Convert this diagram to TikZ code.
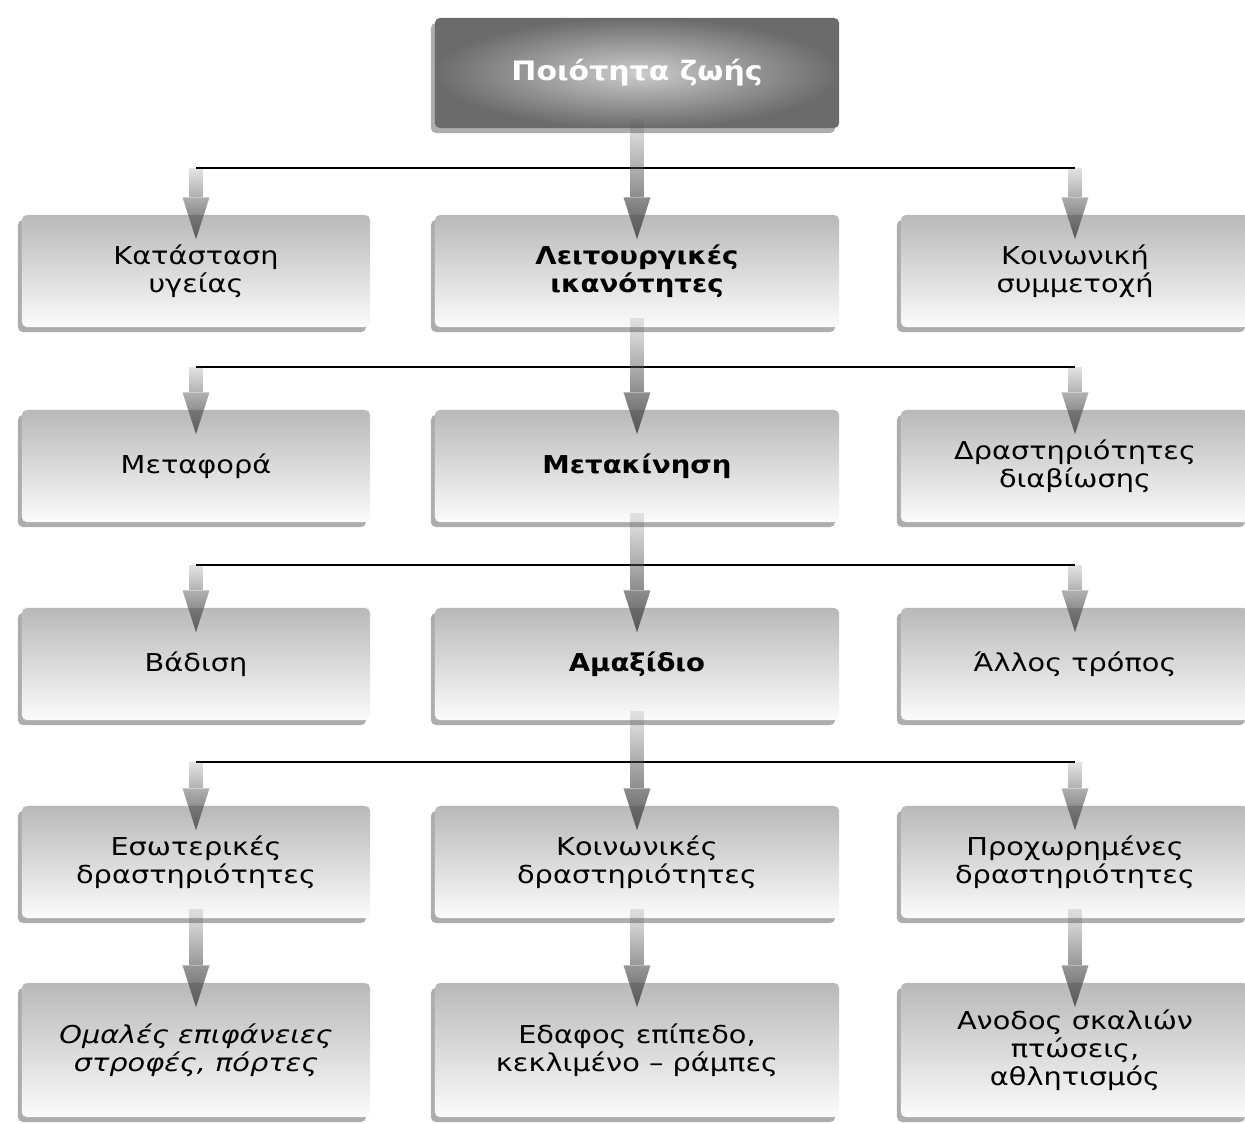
\documentclass[tikz,border=0pt]{standalone}
\usepackage{fontspec}
\usetikzlibrary{arrows.meta,shadows,fadings}
\newfontfamily\boxfont[FakeStretch=1.17]{DejaVu Sans}
\newfontfamily\boxbold[FakeStretch=1.12]{DejaVu Sans Bold}
\tikzfading[name=arrowfade, top color=transparent!92, bottom color=transparent!0]

\begin{document}
\begin{tikzpicture}[x=0.01cm, y=-0.01cm,
  box/.style={rounded corners=0.05cm, minimum width=3.48cm, minimum height=1.12cm,
    top color=gray!55, bottom color=gray!3, align=center, inner sep=0pt,
    drop shadow={shadow xshift=-0.04cm, shadow yshift=-0.05cm, fill=gray!80, opacity=0.8},
    font=\boxfont\fontsize{7}{8}\selectfont},
  midbox/.style={box, minimum width=4.04cm},
  lowbox/.style={minimum height=1.34cm},
  boldtext/.style={font=\boxbold\fontsize{7}{8}\selectfont},
  topbox/.style={midbox, minimum height=1.10cm, inner color=black!20, outer color=black!58,
    text=white, font=\boxbold\fontsize{7.6}{9}\selectfont},
  flow/.style={line width=0.14cm, draw=black!68, path fading=arrowfade,
    -{Triangle[length=0.42cm, width=0.27cm, line width=0pt]}},
  bus/.style={line width=0.025cm, black}]
  \useasboundingbox (0,0) rectangle (1245,1123);

  \node[topbox] (quality) at (637,73) {Ποιότητα ζωής};

  \node[box] (health) at (196,271) {Κατάσταση\\υγείας};
  \node[midbox,boldtext] (func) at (637,271) {Λειτουργικές\\ικανότητες};
  \node[box] (social) at (1075,271) {Κοινωνική\\συμμετοχή};

  \node[box] (transport) at (196,466) {Μεταφορά};
  \node[midbox,boldtext] (mobility) at (637,466) {Μετακίνηση};
  \node[box] (living) at (1075,466) {Δραστηριότητες\\διαβίωσης};

  \node[box] (walk) at (196,664) {Βάδιση};
  \node[midbox,boldtext] (wheel) at (637,664) {Αμαξίδιο};
  \node[box] (other) at (1075,664) {Άλλος τρόπος};

  \node[box] (indoor) at (196,862) {Εσωτερικές\\δραστηριότητες};
  \node[midbox] (community) at (637,862) {Κοινωνικές\\δραστηριότητες};
  \node[box] (advanced) at (1075,862) {Προχωρημένες\\δραστηριότητες};

  \node[box,lowbox] (smooth) at (196,1050) {\itshape Ομαλές επιφάνειες\\\itshape στροφές, πόρτες};
  \node[midbox,lowbox] (ground) at (637,1050) {Εδαφος επίπεδο,\\κεκλιμένο – ράμπες};
  \node[box,lowbox] (stairs) at (1075,1050) {Ανοδος σκαλιών\\πτώσεις,\\αθλητισμός};

  % branch lines with their arrows
  \foreach \up/\l/\m/\r/\y in {quality/health/func/social/168,
      func/transport/mobility/living/367,
      mobility/walk/wheel/other/565,
      wheel/indoor/community/advanced/762} {
    \coordinate (b) at (0,\y);
    \draw[bus] (\l.north |- b) -- (\r.north |- b);
    \draw[flow] (\l.north |- b) -- ([yshift=-0.25cm]\l.north);
    \draw[flow] (\r.north |- b) -- ([yshift=-0.25cm]\r.north);
    \draw[flow] ([yshift=0.1cm]\up.south) -- ([yshift=-0.25cm]\m.north);
  }
  \foreach \a/\b in {indoor/smooth, community/ground, advanced/stairs}
    \draw[flow] ([yshift=0.1cm]\a.south) -- ([yshift=-0.25cm]\b.north);
\end{tikzpicture}
\end{document}
